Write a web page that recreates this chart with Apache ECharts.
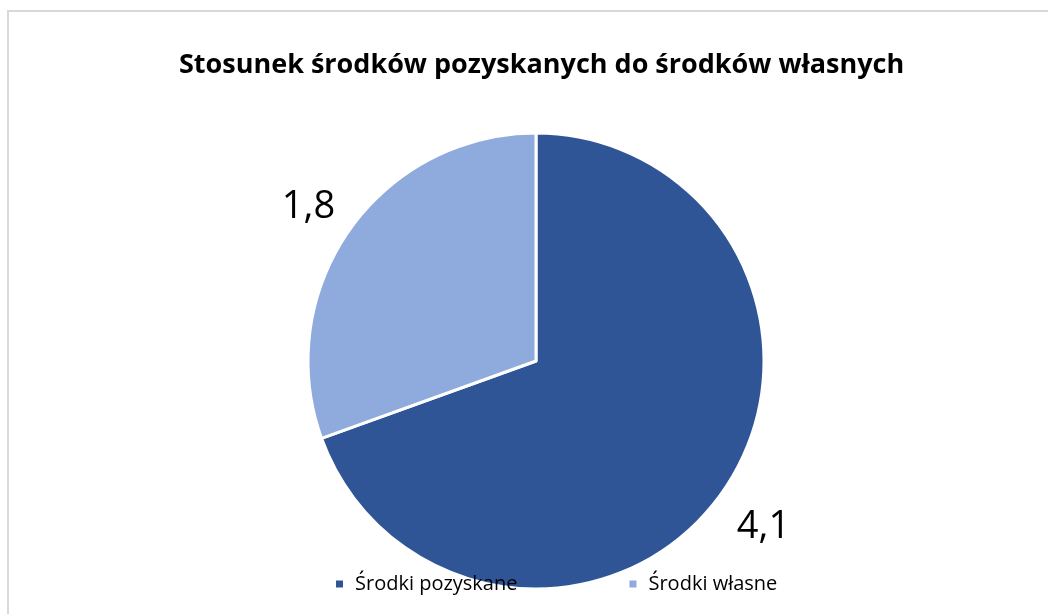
<!DOCTYPE html>
<html><head><meta charset="utf-8">
<script src="https://cdn.jsdelivr.net/npm/echarts@6/dist/echarts.min.js"></script>
<style>html,body{margin:0;padding:0;background:#fff}#c{width:1048px;height:614px}</style>
</head><body><div id="c"></div>
<script>
const titleText = 'Stosunek środków pozyskanych do środków własnych';
const categories = ['Środki pozyskane', 'Środki własne'];
const values = [4.1, 1.8];
const colors = ['#2f5597', '#8faadc'];

const chart = echarts.init(document.getElementById('c'), null, {renderer: 'canvas'});
const data = categories.map((n, i) => ({name: n, value: values[i], itemStyle: {color: colors[i]}}));
chart.setOption({
  animation: false,
  backgroundColor: '#fff',
  graphic: [{type: 'rect', shape: {x: 8, y: 11, width: 1100, height: 700}, style: {fill: 'none', stroke: '#d9d9d9', lineWidth: 2}, z: -1}],
  title: {text: titleText, left: 174, top: 47, textStyle: {fontFamily: 'Open Sans', fontWeight: 'bold', fontSize: 27, color: '#000'}},
  legend: {
    data: categories, top: 569, left: 329, itemWidth: 9, itemHeight: 9, itemGap: 110, icon: 'rect',
    textStyle: {fontFamily: 'Open Sans', fontSize: 20, color: '#000', padding: [0, 0, 0, 6]}
  },
  series: [
    {type: 'pie', center: [536, 361], radius: 228, startAngle: 90, clockwise: true, data: data,
     itemStyle: {borderColor: '#fff', borderWidth: 3}, label: {show: false}, labelLine: {show: false}, silent: true},
    {type: 'pie', center: [536, 361], radius: 550, startAngle: 90, clockwise: true, silent: true,
     data: categories.map((n, i) => ({name: n + ' ', value: values[i]})),
     itemStyle: {color: 'rgba(0,0,0,0)'}, labelLine: {show: false},
     labelLayout: {dy: 6},
     label: {show: true, position: 'inside', fontFamily: 'Open Sans', fontSize: 38, color: '#000',
       formatter: p => String(p.value).replace('.', ',')}}
  ]
});
</script></body></html>
